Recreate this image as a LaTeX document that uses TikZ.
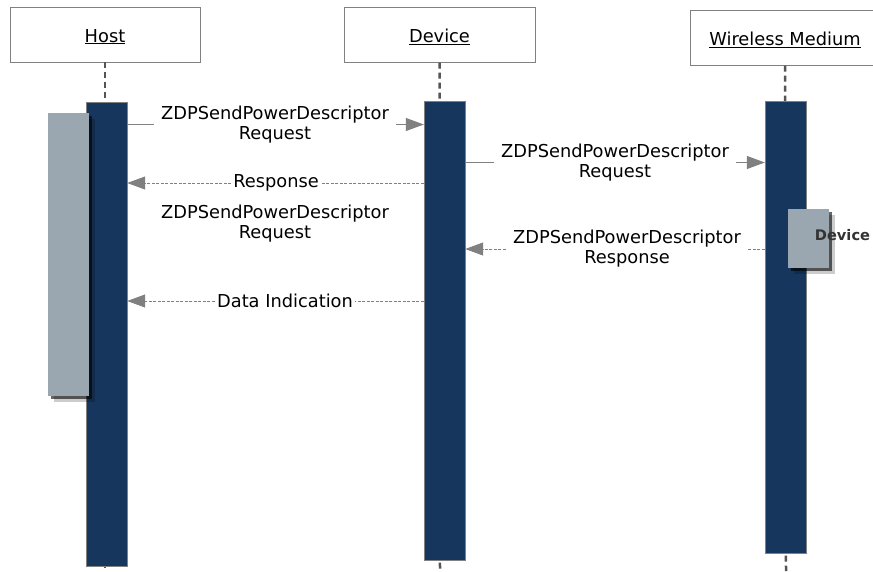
\documentclass[tikz,border=0pt]{standalone}
\usepackage{fontspec}
\setmainfont{DejaVu Sans}
\usetikzlibrary{positioning, arrows.meta, shadows}
\definecolor{barblue}{RGB}{23,54,93}
\definecolor{actgray}{RGB}{155,167,176}
\definecolor{msggray}{RGB}{128,128,128}
\definecolor{lifegray}{RGB}{85,85,85}

\begin{document}
\begin{tikzpicture}[x=1pt,y=-1pt,
  actor/.style={rectangle, draw=msggray, fill=white, minimum width=190pt, minimum height=55pt, text height=15pt, text depth=0pt, font=\fontsize{17.8}{20}\selectfont},
  bar/.style={rectangle, draw=msggray, fill=barblue, minimum width=41pt, inner sep=0pt},
  act/.style={rectangle, fill=actgray, minimum width=41pt, inner sep=0pt,
    drop shadow={shadow xshift=6pt, shadow yshift=-6pt, fill=black, opacity=.2},
    drop shadow={shadow xshift=3pt, shadow yshift=-3pt, fill=black, opacity=.6}},
  msg/.style={align=center, inner xsep=7pt, inner ysep=0pt, font=\fontsize{17.8}{20}\selectfont},
  life/.style={draw=lifegray, line width=2.5pt, dash pattern=on 6pt off 4pt},
  call/.style={draw=msggray, line width=1pt},
  back/.style={draw=msggray, line width=0.8pt, dash pattern=on 3pt off 1.5pt},
  tip/.style={-{Triangle[length=18pt,width=13pt]}}
]
\clip (0,0) rectangle (873,571);

% Actors
\node[actor] (host) at (105,34.5) {\underline{Host}};
\node[actor, minimum width=191pt] (dev) at (439.5,35) {\underline{Device}};
\node[actor] (wm) at (785,38) {\underline{Wireless Medium}};

% Lifelines
\coordinate (hostend) at (105,571);
\coordinate (devend) at (440,571);
\coordinate (wmend) at (786,571);
\draw[life] (host.south) -- (hostend);
\draw[life] (dev.south) -- (devend);
\draw[life] (wm.south) -- (wmend);

% Activation bars
\node[bar, minimum height=464pt] (hostbar) at (106.5,334) {};
\node[bar, minimum height=459pt] (devbar) at (444.5,330.5) {};
\node[bar, minimum height=452pt] (wmbar) at (785.5,327) {};

% Activity boxes
\node[act, minimum height=283pt] (hostact) at (68.5,254.5) {};
\node[act, minimum height=59pt] (wmact) at (808.5,238.5) {};
\node[font=\fontsize{14.6}{16}\bfseries, text=black!80] (wmtag) at (842.5,235) {Device};

% Messages
\node[msg] (m1) at (275,124.5) {ZDPSendPowerDescriptor\\Request};
\node[msg] (m2) at (615,162.5) {ZDPSendPowerDescriptor\\Request};
\node[msg, inner xsep=2pt] (m3) at (276,183) {Response};
\node[msg] (note) at (275,223.5) {ZDPSendPowerDescriptor\\Request};
\node[msg] (m5) at (627,249) {ZDPSendPowerDescriptor\\Response};
\node[msg, inner xsep=2pt] (m6) at (285,301) {Data Indication};

\draw[call] (m1.west -| hostbar.east) -- (m1.west);
\draw[call, tip] (m1.east) -- (m1.east -| devbar.west);
\draw[call] (m2.west -| devbar.east) -- (m2.west);
\draw[call, tip] (m2.east) -- (m2.east -| wmbar.west);
\draw[back] (m3.east -| devbar.west) -- (m3.east);
\draw[back, tip] (m3.west) -- (m3.west -| hostbar.east);
\draw[back] (m5.east -| wmbar.west) -- (m5.east);
\draw[back, tip] (m5.west) -- (m5.west -| devbar.east);
\draw[back] (m6.east -| devbar.west) -- (m6.east);
\draw[back, tip] (m6.west) -- (m6.west -| hostbar.east);

\end{tikzpicture}
\end{document}
